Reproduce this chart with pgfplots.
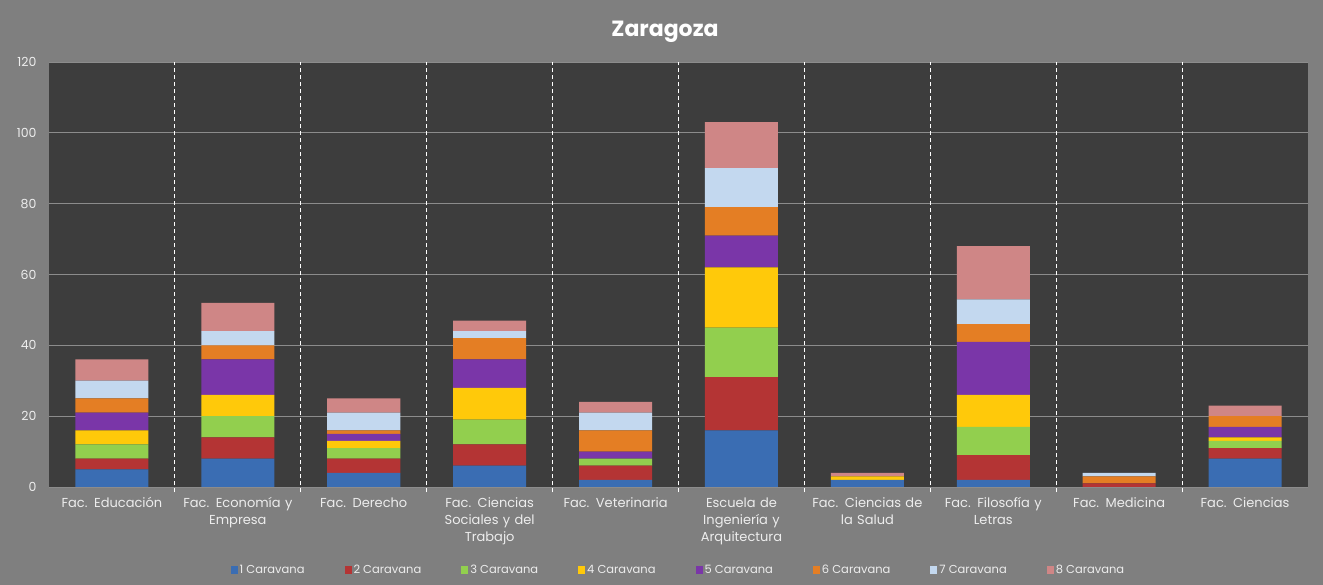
\documentclass[border=0pt]{standalone}
\usepackage{pgfplots}
\pgfplotsset{compat=1.18}
\usepackage{fontspec}
\setmainfont{Poppins}
\definecolor{bggray}{HTML}{7F7F7F}
\definecolor{plotbg}{HTML}{3D3D3D}
\definecolor{gridgray}{HTML}{8C8C8C}
\definecolor{labelgray}{HTML}{EDEDED}
\definecolor{c1}{HTML}{3A6DB3}
\definecolor{c2}{HTML}{B43434}
\definecolor{c3}{HTML}{92CF4E}
\definecolor{c4}{HTML}{FFC90A}
\definecolor{c5}{HTML}{7A36A8}
\definecolor{c6}{HTML}{E47E24}
\definecolor{c7}{HTML}{C3D8EF}
\definecolor{c8}{HTML}{CF8686}
\begin{document}
\begin{tikzpicture}[x=1pt,y=1pt]
\fill[bggray] (0,0) rectangle (1323,585);
\node[font=\bfseries\fontsize{22}{26}\selectfont, text=white] at (665,553) {Zaragoza};
\begin{axis}[
  at={(49pt,98pt)}, anchor=south west,
  width=1259pt, height=425pt, scale only axis,
  clip=false,
  ybar stacked, bar width=0.58,
  xmin=-0.5, xmax=9.5, ymin=0, ymax=120,
  ytick={0,20,...,120},
  xtick={0,...,9},
  xticklabels={Fac. Educación, {Fac. Economía y\\Empresa}, Fac. Derecho, {Fac. Ciencias\\Sociales y del\\Trabajo}, Fac. Veterinaria, {Escuela de\\Ingeniería y\\Arquitectura}, {Fac. Ciencias de\\la Salud}, {Fac. Filosofía y\\Letras}, Fac. Medicina, Fac. Ciencias},
  axis background/.style={fill=plotbg},
  axis line style={draw=none},
  ymajorgrids, grid style={gridgray, line width=0.9pt},
  major tick length=0pt,
  yticklabel style={text=labelgray, font=\fontsize{12.5}{14}\selectfont, xshift=-9pt},
  xticklabel style={text=labelgray, font=\fontsize{13}{17}\selectfont, text width=128pt, align=center, yshift=-7pt},
  /pgf/number format/assume math mode=true,
  legend columns=8,
  legend style={at={(axis description cs:0.5,-0.195)}, anchor=center, draw=none, fill=none, text=labelgray, font=\fontsize{11.5}{13}\selectfont, /tikz/every even column/.append style={column sep=38pt}},
  legend image code/.code={\fill[#1] (0pt,-4pt) rectangle (7pt,4pt);},
]
\pgfplotsinvokeforeach{0.5,1.5,2.5,3.5,4.5,5.5,6.5,7.5,8.5}{
  \draw[white, line width=1.1pt, dash pattern=on 4pt off 3pt] (axis cs:#1,-1.5) -- (axis cs:#1,120);
}
\addplot[fill=c1, draw=none] coordinates {(0,5) (1,8) (2,4) (3,6) (4,2) (5,16) (6,2) (7,2) (8,0) (9,8)};
\addplot[fill=c2, draw=none] coordinates {(0,3) (1,6) (2,4) (3,6) (4,4) (5,15) (6,0) (7,7) (8,1) (9,3)};
\addplot[fill=c3, draw=none] coordinates {(0,4) (1,6) (2,3) (3,7) (4,2) (5,14) (6,0) (7,8) (8,0) (9,2)};
\addplot[fill=c4, draw=none] coordinates {(0,4) (1,6) (2,2) (3,9) (4,0) (5,17) (6,1) (7,9) (8,0) (9,1)};
\addplot[fill=c5, draw=none] coordinates {(0,5) (1,10) (2,2) (3,8) (4,2) (5,9) (6,0) (7,15) (8,0) (9,3)};
\addplot[fill=c6, draw=none] coordinates {(0,4) (1,4) (2,1) (3,6) (4,6) (5,8) (6,0) (7,5) (8,2) (9,3)};
\addplot[fill=c7, draw=none] coordinates {(0,5) (1,4) (2,5) (3,2) (4,5) (5,11) (6,0) (7,7) (8,1) (9,0)};
\addplot[fill=c8, draw=none] coordinates {(0,6) (1,8) (2,4) (3,3) (4,3) (5,13) (6,1) (7,15) (8,0) (9,3)};
\addplot[forget plot, draw=none, fill=none, nodes near coords, point meta=explicit symbolic,
  nodes near coords style={text=white, font=\fontsize{14}{16}\selectfont, anchor=south, yshift=1pt}]
  coordinates {(0,0)[36] (1,0)[52] (2,0)[25] (3,0)[47] (4,0)[24] (5,0)[103] (6,0)[4] (7,0)[68] (8,0)[4] (9,0)[23]};
\legend{1 Caravana, 2 Caravana, 3 Caravana, 4 Caravana, 5 Caravana, 6 Caravana, 7 Caravana, 8 Caravana}
\end{axis}
\end{tikzpicture}
\end{document}
